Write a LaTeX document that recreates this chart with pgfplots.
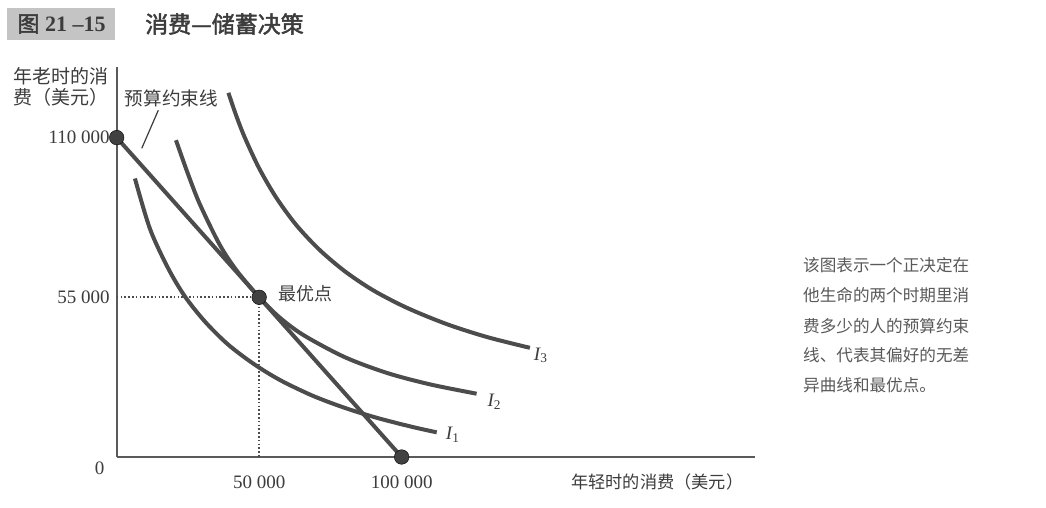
\documentclass[border=0pt]{standalone}
\usepackage{fontspec}
\setmainfont{Liberation Serif}
\newfontfamily\cjk[AutoFakeBold=2]{Noto Sans CJK SC}
\usepackage{pgfplots}
\pgfplotsset{compat=1.18}
\definecolor{curve}{HTML}{4C4C4C}
\definecolor{axisc}{HTML}{5A5A5A}
\definecolor{txt}{HTML}{3C3C3C}
\definecolor{boxg}{HTML}{C4C4C4}
\begin{document}
\begin{tikzpicture}
\useasboundingbox (0,0) rectangle (1046pt,507pt);
\fill[white] (0,0) rectangle (1046pt,507pt);
% title
\fill[boxg] (7pt,467pt) rectangle (115pt,499pt);
\node[anchor=center, text=txt, font=\fontsize{22}{22}\selectfont\bfseries] at (61.5pt,483pt) {{\cjk 图} 21 --15};
\node[anchor=center, text=txt, font=\fontsize{23}{23}\selectfont] at (224.5pt,483pt) {\cjk\bfseries 消费—储蓄决策};
% y label
\node[anchor=base west, inner sep=0pt, text=txt, font=\fontsize{19}{19}\selectfont] at (13pt,423pt) {\cjk 年老时的消};
\node[anchor=base west, inner sep=0pt, text=txt, font=\fontsize{19}{19}\selectfont] at (13pt,402pt) {\cjk 费（美元）};
% x label
\node[anchor=base west, inner sep=0pt, text=txt, font=\fontsize{17.2}{17.2}\selectfont] at (571pt,18.5pt) {\cjk 年轻时的消费（美元）};
% side note
\begin{scope}[every node/.style={anchor=base west, inner sep=0pt, text=black!65, font=\fontsize{16.6}{16.6}\selectfont\cjk}]
\node at (803pt,235.7pt) {该图表示一个正决定在};
\node at (803pt,205.7pt) {他生命的两个时期里消};
\node at (803pt,174.7pt) {费多少的人的预算约束};
\node at (803pt,145.7pt) {线、代表其偏好的无差};
\node at (803pt,115.7pt) {异曲线和最优点。};
\end{scope}
\begin{axis}[
  at={(116.7pt,50pt)}, anchor=south west,
  scale only axis, width=638.3pt, height=390pt,
  xmin=0, xmax=224000, ymin=0, ymax=134300,
  axis x line=bottom, axis y line=left,
  axis line style={-, draw=axisc, line width=2pt},
  xtick={50000,100000}, xticklabels={50 000,100 000},
  ytick={55000,110000}, yticklabels={55 000,110 000},
  scaled ticks=false,
  major tick length=0pt,
  tick style={draw=none},
  xticklabel style={font=\fontsize{19}{19}\selectfont, text=txt, yshift=-15pt},
  yticklabel style={font=\fontsize{19}{19}\selectfont, text=txt, xshift=-3.5pt},
  clip=false,
]
% indifference curves
\addplot[curve, line width=4pt, smooth] coordinates {
 (6400,95900) (11700,78500) (18100,64900) (24000,55200) (31000,46600)
 (39000,38800) (48000,32100) (57300,26500) (69000,21000) (80700,16700)
 (92000,13300) (104000,10300) (112300,8500)};
\addplot[curve, line width=4pt, smooth] coordinates {
 (20800,109100) (25000,97500) (29200,87000) (36200,73000) (42100,64200)
 (50000,55000) (57000,48200) (65500,42000) (80000,34400) (95000,28900)
 (110000,25000) (126300,21800)};
\addplot[curve, line width=4pt, smooth] coordinates {
 (39200,125400) (42000,117400) (45000,109900) (50000,99400) (56000,89300)
 (63000,79900) (71000,71500) (80000,64000) (90000,57400) (102000,51300)
 (116000,45700) (130000,41300) (145000,37600)};
% budget constraint
\addplot[curve, line width=4pt] coordinates {(0,110000) (100000,0)};
% dotted guides
\addplot[curve, line width=1.8pt, dash pattern=on 1.6pt off 2.2pt] coordinates {(0,55000) (50000,55000) (50000,0)};
% leader
\addplot[txt, line width=1.2pt] coordinates {(14600,119400) (8800,106300)};
% points
\addplot[only marks, mark=*, mark size=7.3pt, mark options={fill=curve!85!black, draw=none}] coordinates {(0,110000) (50000,55000) (100000,0)};
% labels
\node[anchor=center, text=txt, font=\fontsize{18.6}{18.6}\selectfont\cjk] at (axis cs:19200,123600) {预算约束线};
\node[anchor=west, inner sep=0pt, text=txt, font=\fontsize{18}{18}\selectfont\cjk] at (axis cs:56600,56400) {最优点};
\node[anchor=center, inner sep=0pt, text=txt, font=\fontsize{19}{19}\selectfont] at (axis cs:117900,7600) {\itshape I\textsubscript{\upshape 1}};
\node[anchor=center, inner sep=0pt, text=txt, font=\fontsize{19}{19}\selectfont] at (axis cs:132500,19000) {\itshape I\textsubscript{\upshape 2}};
\node[anchor=center, inner sep=0pt, text=txt, font=\fontsize{19}{19}\selectfont] at (axis cs:148800,35000) {\itshape I\textsubscript{\upshape 3}};
\node[anchor=center, inner sep=0pt, text=txt, font=\fontsize{19}{19}\selectfont] at (axis cs:-6000,-3800) {0};
\end{axis}
\end{tikzpicture}
\end{document}
